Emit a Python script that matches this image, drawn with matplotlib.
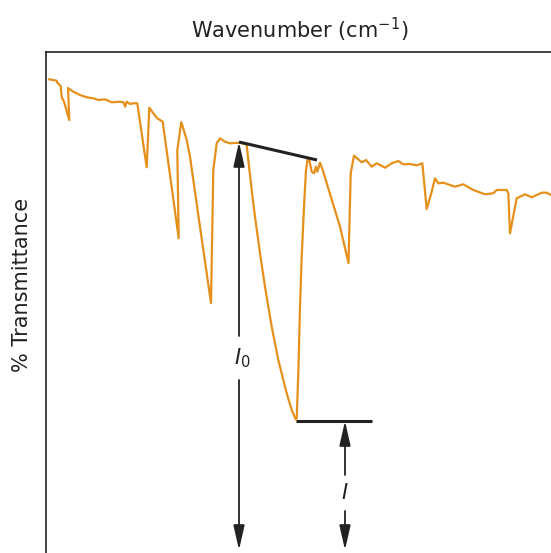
import matplotlib
matplotlib.use('Agg')
import matplotlib.pyplot as plt

# --- spectrum (x: chart position, y: transmittance height) ---
x_vals = [49.3, 56.7, 57.3, 60.7, 61.7, 64.0, 69.3, 68.0, 73.3, 80.0, 86.7, 93.3, 98.3,
          105.0, 111.7, 120.0, 123.3, 125.3, 126.7, 130.0, 133.3, 137.3, 146.7, 149.3,
          153.3, 157.3, 162.7, 178.7, 177.3, 181.3, 186.7, 190.0, 200.0, 211.0, 213.3,
          216.7, 220.0, 225.0, 230.0, 239.3, 245.0, 246.7, 248.3, 251.7, 255.0, 260.0,
          265.0, 271.7, 278.3, 286.7, 291.7, 295.7, 296.7, 298.3, 300.0, 301.7, 304.0,
          306.0, 307.7, 309.3, 311.7, 314.0, 316.0, 317.3, 320.0,
          322.7, 340.0, 348.5, 350.7, 354.0, 361.7, 366.0, 371.7, 376.7, 385.0, 391.7,
          398.3, 403.3, 410.0, 416.7, 422.3, 426.7, 431.7, 435.0, 438.3, 443.3, 450.0,
          455.0, 463.3, 473.3, 485.0, 493.3, 496.7, 506.7, 508.3, 510.0, 516.7, 525.0,
          531.7, 541.7, 546.7, 551.0]
t_vals = [473.7, 472.3, 470.3, 467.0, 455.7, 451.3, 433.0, 465.0, 461.3, 458.0, 455.7,
          454.7, 453.0, 453.7, 450.7, 451.3, 450.7, 446.3, 451.3, 449.0, 449.7, 449.7,
          385.7, 445.3, 439.7, 434.7, 431.3, 314.7, 403.0, 431.0, 413.0, 396.3, 326.0,
          250.0, 383.0, 409.7, 414.7, 411.3, 409.7, 410.3, 409.0, 408.0, 393.0, 363.0,
          336.3, 299.7, 266.3, 226.3, 193.0, 159.7, 143.0, 133.7, 134.7, 179.7, 246.3,
          296.3, 346.3, 383.0, 394.7, 393.0, 381.3, 379.7, 386.3, 381.3, 390.3,
          383.0, 326.3, 290.0, 379.7, 397.3, 390.7, 393.0, 386.3, 389.7,
          385.3, 389.7, 392.0, 388.7, 389.0, 387.7, 389.7, 344.0, 361.3, 374.7, 369.7,
          370.3, 368.0, 366.3, 368.7, 363.0, 358.7, 359.7, 363.0, 363.0, 359.7, 319.7,
          354.7, 358.7, 355.7, 360.3, 360.3, 358.0]

# baseline and minimum markers
base_x = [239, 317]
base_t = [411, 393]
min_x = [296, 372]
min_t = [132, 132]

orange = '#E6901C'
dark = '#222222'

fig = plt.figure(figsize=(5.51, 5.53), dpi=100)
ax = fig.add_axes([46 / 551, 0, 1 - 46 / 551, 501 / 553])
ax.plot(x_vals, t_vals, color=orange, lw=1.6, solid_joinstyle='round')
ax.plot(base_x, base_t, color=dark, lw=2.2, solid_capstyle='butt')
ax.plot(min_x, min_t, color=dark, lw=2.2, solid_capstyle='butt')

arrow = dict(arrowstyle='-|>,head_length=0.75,head_width=0.17', color=dark,
             lw=1.3, mutation_scale=20, shrinkA=0, shrinkB=0)

def dim_arrow(x, top, label_t, gap, bottom=3):
    ax.annotate('', xy=(x, top), xytext=(x, label_t + gap), arrowprops=arrow,
                annotation_clip=False)
    ax.annotate('', xy=(x, bottom), xytext=(x, label_t - gap), arrowprops=arrow,
                annotation_clip=False)

dim_arrow(base_x[0], base_t[0], 195, 22)
dim_arrow(345, min_t[0], 60, 18)
ax.text(base_x[0] + 3, 195, r'$I_0$', fontsize=15, ha='center', va='center', color=dark)
ax.text(345, 60, r'$I$', fontsize=15, ha='center', va='center', color=dark)

ax.set_xlim(46, 551)
ax.set_ylim(0, 501)
ax.set_xticks([])
ax.set_yticks([])
for side in ['right', 'bottom']:
    ax.spines[side].set_visible(False)
for side in ['left', 'top']:
    ax.spines[side].set_linewidth(1.2)
    ax.spines[side].set_color(dark)

fig.text(300 / 551, 1 - 30 / 553, 'Wavenumber (cm$^{-1}$)', fontsize=15,
         ha='center', va='center', color=dark)
fig.text(22 / 551, 1 - 285 / 553, '% Transmittance', fontsize=15, rotation=90,
         ha='center', va='center', color=dark)

fig.savefig('out.png', dpi=100)
